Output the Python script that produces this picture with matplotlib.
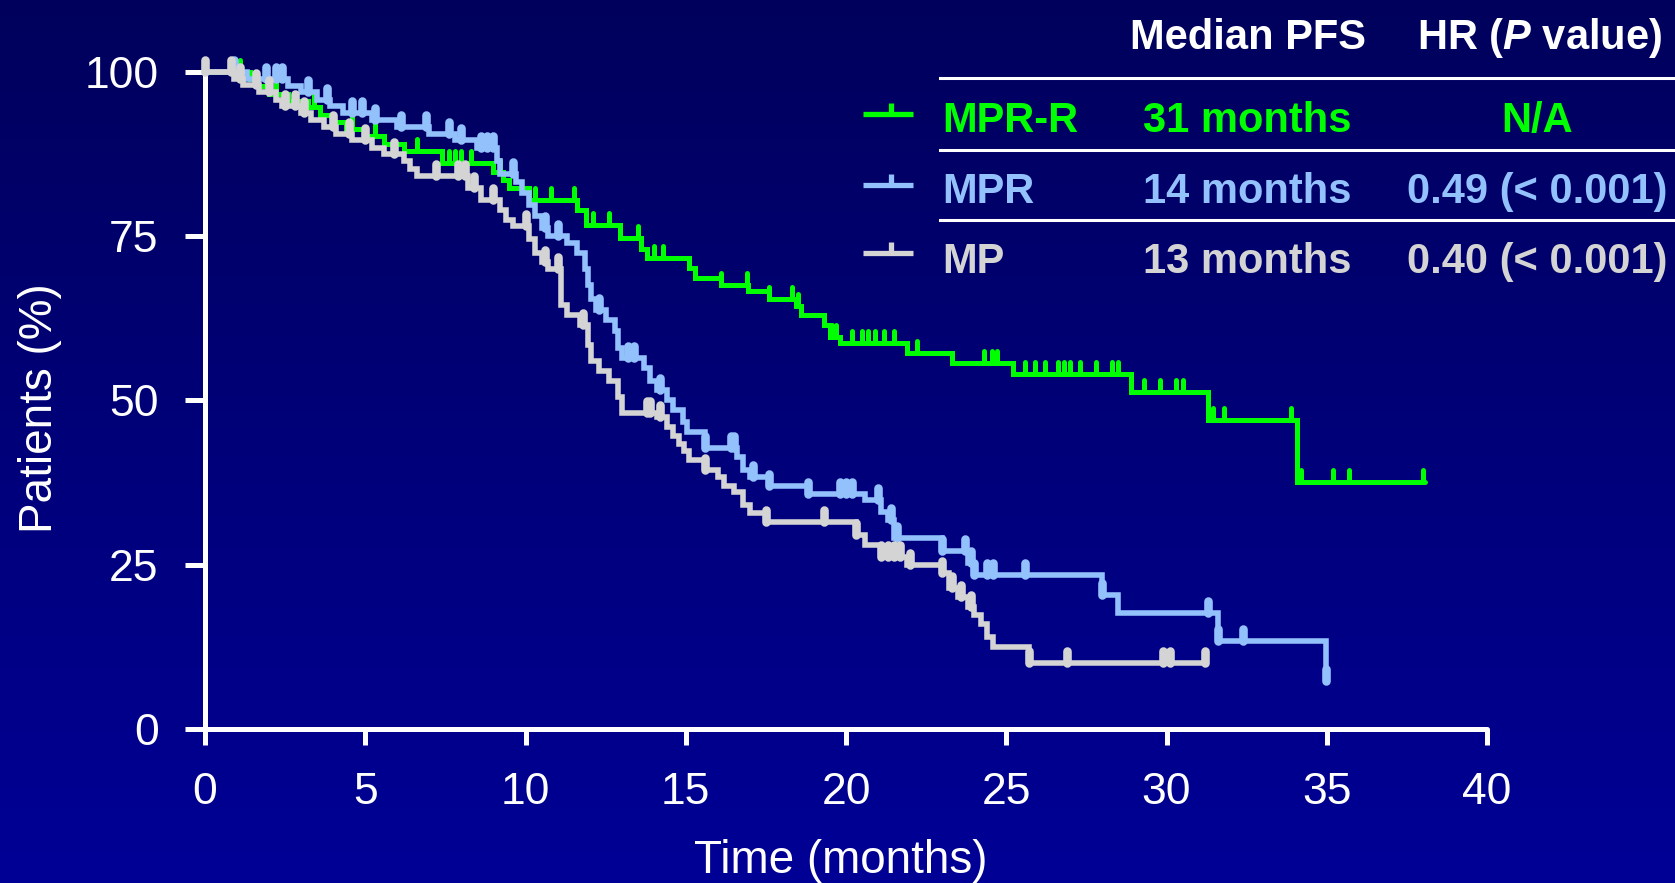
import numpy as np
import matplotlib
matplotlib.use('Agg')
import matplotlib.pyplot as plt
from matplotlib.markers import MarkerStyle
from matplotlib.lines import Line2D

# ---------------- data ----------------
# MPR-R (green)
mprr_t = [0, 1.4, 1.6, 2.0, 2.6, 3.2, 3.6, 4.0, 4.4, 5.0, 5.6, 6.2, 7.4, 9.0, 9.3, 9.5,
          10.1, 11.6, 11.9, 12.95, 13.6, 13.8, 15.1, 15.3, 16.1, 16.95, 17.6, 18.45, 18.6,
          19.3, 19.5, 19.8, 21.9, 23.3, 25.2, 28.9, 31.3, 34.06]
mprr_s = [100, 98.9, 97.8, 96.7, 95.6, 94.6, 93.5, 92.4, 91.3, 90.2, 89.1, 88.0, 86.1, 84.7, 83.5, 82.3,
          80.5, 79.0, 76.7, 74.7, 73.0, 71.7, 70.1, 68.6, 67.6, 66.6, 65.5, 64.3, 63.0,
          61.5, 59.7, 58.7, 57.2, 55.7, 54.0, 51.2, 47.0, 37.6]
mprr_end = 38.05
mprr_cens = [0.9, 1.1, 2.2, 3.4, 4.6, 5.3, 6.6, 7.6, 7.8, 8.0, 8.3, 9.2, 10.3, 10.8, 11.5, 12.1,
             12.6, 13.5, 14.0, 14.3, 16.1, 16.9, 17.6, 18.3, 18.5, 19.55, 19.7, 20.2, 20.5, 20.7,
             20.9, 21.2, 21.5, 22.2, 24.3, 24.55, 24.7, 25.6, 25.9, 26.2, 26.6, 26.8, 27.0, 27.3,
             27.8, 28.3, 28.5, 29.3, 29.8, 30.3, 30.5, 31.45, 31.8, 33.9, 34.2, 35.2, 35.7, 38.0]

# MPR (light blue)
mpr_t = [0, 1.3, 2.6, 3.0, 3.5, 3.9, 4.3, 5.2, 6.0, 7.0, 7.8, 8.5, 9.1, 9.2, 9.7, 9.9, 10.1,
         10.3, 10.5, 10.7, 11.3, 11.6, 11.85, 11.95, 12.05, 12.2, 12.5, 12.8, 12.9, 13.0, 13.7,
         13.9, 14.1, 14.4, 14.6, 14.9, 15.05, 15.6, 16.6, 16.8, 17.0, 17.6, 18.8, 20.6, 21.1,
         21.3, 21.5, 23.0, 23.8, 24.0, 28.0, 28.5, 31.6, 34.97]
mpr_s = [100, 99.0, 97.9, 96.9, 95.8, 94.8, 93.8, 92.7, 91.7, 90.6, 89.6, 88.5, 86.5, 84.5, 83.3,
         81.5, 79.8, 78.0, 76.2, 75.0, 74.0, 72.5, 70.0, 67.5, 65.5, 63.8, 62.3, 60.5, 58.0, 56.5,
         55.0, 53.0, 51.5, 50.0, 48.5, 46.7, 45.2, 42.7, 41.4, 39.4, 38.4, 37.0, 35.8, 34.8, 33.0,
         31.8, 29.0, 27.0, 25.2, 23.4, 20.4, 17.6, 13.3, 7.2]
mpr_end = 34.97
mpr_cens = [0.9, 1.9, 2.2, 2.4, 3.2, 3.8, 4.6, 4.9, 5.3, 6.1, 6.9, 7.6, 8.0, 8.6, 8.8, 9.0, 9.6,
            10.6, 11.0, 12.3, 13.2, 13.4, 14.2, 15.6, 16.4, 16.5, 17.1, 17.6, 18.8, 19.8, 20.0,
            20.2, 21.0, 21.4, 21.6, 23.0, 23.7, 23.9, 24.0, 24.4, 24.6, 25.6, 28.0, 31.3, 31.6,
            32.4, 34.97]

# MP (grey)
mp_t = [0, 0.9, 1.2, 1.7, 2.2, 2.4, 3.0, 3.3, 3.7, 4.1, 4.6, 5.2, 5.6, 6.2, 6.4, 6.6, 8.2, 8.6,
        9.2, 9.4, 9.6, 10.1, 10.3, 10.5, 10.7, 11.1, 11.3, 11.7, 11.95, 12.05, 12.3, 12.6, 12.9,
        13.0, 14.1, 14.4, 14.6, 14.8, 14.95, 15.1, 15.6, 16.0, 16.2, 16.5, 16.8, 17.0, 17.5,
        20.3, 20.6, 21.1, 21.9, 23.0, 23.2, 23.5, 23.8, 24.0, 24.2, 24.4, 24.6, 25.7]
mp_s = [100, 99.0, 98.0, 97.0, 95.8, 94.8, 93.7, 92.7, 91.6, 90.6, 89.6, 88.5, 87.5, 86.4, 85.2,
        84.1, 82.3, 80.5, 79.0, 77.5, 76.5, 74.5, 72.5, 71.0, 70.0, 64.5, 63.0, 61.5, 58.5, 56.0,
        54.5, 53.0, 50.5, 48.0, 47.4, 45.9, 44.6, 43.3, 42.3, 40.9, 39.4, 38.4, 37.0, 36.0, 34.1,
        32.8, 31.5, 29.5, 28.0, 26.2, 24.9, 23.7, 21.5, 20.0, 18.6, 17.3, 16.0, 14.0, 12.5, 10.0]
mp_end = 31.2
mp_cens = [0.0, 0.8, 1.1, 1.6, 2.0, 2.5, 2.8, 3.1, 4.0, 4.5, 5.0, 5.9, 7.2, 7.9, 8.1, 8.4, 9.0,
           10.0, 10.6, 11.0, 11.8, 13.8, 13.9, 14.2, 15.6, 17.5, 19.3, 20.3, 21.1, 21.3, 21.5,
           21.7, 22.0, 23.0, 23.3, 23.6, 23.9, 25.7, 26.9, 29.9, 30.1, 31.2]

x_ticks = [0, 5, 10, 15, 20, 25, 30, 35, 40]
y_ticks = [0, 25, 50, 75, 100]

row_names = ['MPR-R', 'MPR', 'MP']
medians = ['31 months', '14 months', '13 months']
hrs = ['N/A', '0.49 (< 0.001)', '0.40 (< 0.001)']
header_median = 'Median PFS'
header_hr = r'HR ($\mathit{P}$ value)'

C_GREEN = '#00FF00'
C_BLUE = '#93C1FB'
C_GREY = '#D4D4D4'

# ---------------- figure ----------------
W, H, DPI = 1675, 883, 100
plt.rcParams['font.family'] = ['Liberation Sans', 'DejaVu Sans']
plt.rcParams['mathtext.fontset'] = 'custom'
plt.rcParams['mathtext.it'] = 'Liberation Sans:italic:bold'
plt.rcParams['mathtext.rm'] = 'Liberation Sans:bold'

fig = plt.figure(figsize=(W / DPI, H / DPI), dpi=DPI)

def fx(px):
    return px / W

def fy(py):
    return 1 - py / H

# gradient background
bg = fig.add_axes([0, 0, 1, 1], zorder=-10)
top = np.array([0, 0, 92]) / 255.0
bot = np.array([0, 0, 150]) / 255.0
g = np.linspace(0, 1, 256)[:, None, None]
img = top[None, None, :] + (bot - top)[None, None, :] * g
bg.imshow(img, aspect='auto', extent=[0, 1, 0, 1], origin='upper')
bg.axis('off')

x0, x1 = 205, 1487
y0, y1 = 728.7, 72
ax = fig.add_axes([fx(x0), fy(y0), (x1 - x0) / W, (y0 - y1) / H])
ax.set_facecolor('none')
ax.set_xlim(0, 40)
ax.set_ylim(0, 100)
for s in ['top', 'right']:
    ax.spines[s].set_visible(False)
for s in ['left', 'bottom']:
    ax.spines[s].set_color('white')
    ax.spines[s].set_linewidth(3.6)
    ax.spines[s].set_capstyle('round')
ax.set_xticks(x_ticks)
ax.set_yticks(y_ticks)
ax.set_xticklabels([str(v) for v in x_ticks])
ax.set_yticklabels([str(v) for v in y_ticks])
ax.tick_params(axis='y', length=14.4, width=3.6, color='white', pad=19,
               labelsize=32, labelcolor='white')
ax.tick_params(axis='x', length=11.5, width=3.6, color='white', pad=20,
               labelsize=32, labelcolor='white')


def km(t, s, end, cens, color, lw, ms, mew, z):
    xs = list(t) + [end]
    ys = list(s) + [s[-1]]
    ax.plot(xs, ys, drawstyle='steps-post', color=color, lw=lw,
            solid_joinstyle='miter', solid_capstyle='round', clip_on=False, zorder=z)
    ta = np.array(t)
    sa = np.array(s)
    idx = np.searchsorted(ta, np.array(cens), side='right') - 1
    cy = sa[idx]
    ax.plot(cens, cy, ls='none', marker=MarkerStyle(2, capstyle='round'),
            ms=ms, mew=mew, color=color, clip_on=False, zorder=z)


km(mprr_t, mprr_s, mprr_end, mprr_cens, C_GREEN, 3.6, 9.0, 3.6, 3)
km(mpr_t, mpr_s, mpr_end, mpr_cens, C_BLUE, 4.0, 9.0, 6.2, 4)
km(mp_t, mp_s, mp_end, mp_cens, C_GREY, 4.0, 9.0, 6.2, 5)

# axis labels
fig.text(fx(841), fy(873), 'Time (months)', ha='center', va='baseline',
         fontsize=33, color='white')
fig.text(fx(40), fy(408), 'Patients (%)', ha='center', va='center',
         rotation=90, fontsize=33, color='white')

# legend table
fig.text(fx(1248), fy(49), header_median, ha='center', va='baseline',
         fontsize=30, weight='bold', color='white')
fig.text(fx(1540), fy(49), header_hr, ha='center', va='baseline',
         fontsize=30, weight='bold', color='white')
for ly in [78, 149.5, 220]:
    fig.add_artist(Line2D([fx(940), fx(1675)], [fy(ly), fy(ly)], lw=2.2,
                          color='white', transform=fig.transFigure))

colors = [C_GREEN, C_BLUE, C_GREY]
baselines = [132, 203, 273]
marker_y = [114, 184.5, 252.5]
for name, med, hr, col, by, my in zip(row_names, medians, hrs, colors, baselines, marker_y):
    fig.add_artist(Line2D([fx(863), fx(913)], [fy(my), fy(my)], lw=3.8, color=col,
                          transform=fig.transFigure, solid_capstyle='butt'))
    fig.add_artist(Line2D([fx(891), fx(891)], [fy(my), fy(my - 11)], lw=3.8, color=col,
                          transform=fig.transFigure, solid_capstyle='butt'))
    fig.text(fx(942), fy(by), name, ha='left', va='baseline', fontsize=30,
             weight='bold', color=col)
    fig.text(fx(1247), fy(by), med, ha='center', va='baseline', fontsize=30,
             weight='bold', color=col)
    fig.text(fx(1537), fy(by), hr, ha='center', va='baseline', fontsize=30,
             weight='bold', color=col)

fig.savefig('out.png', dpi=DPI)
